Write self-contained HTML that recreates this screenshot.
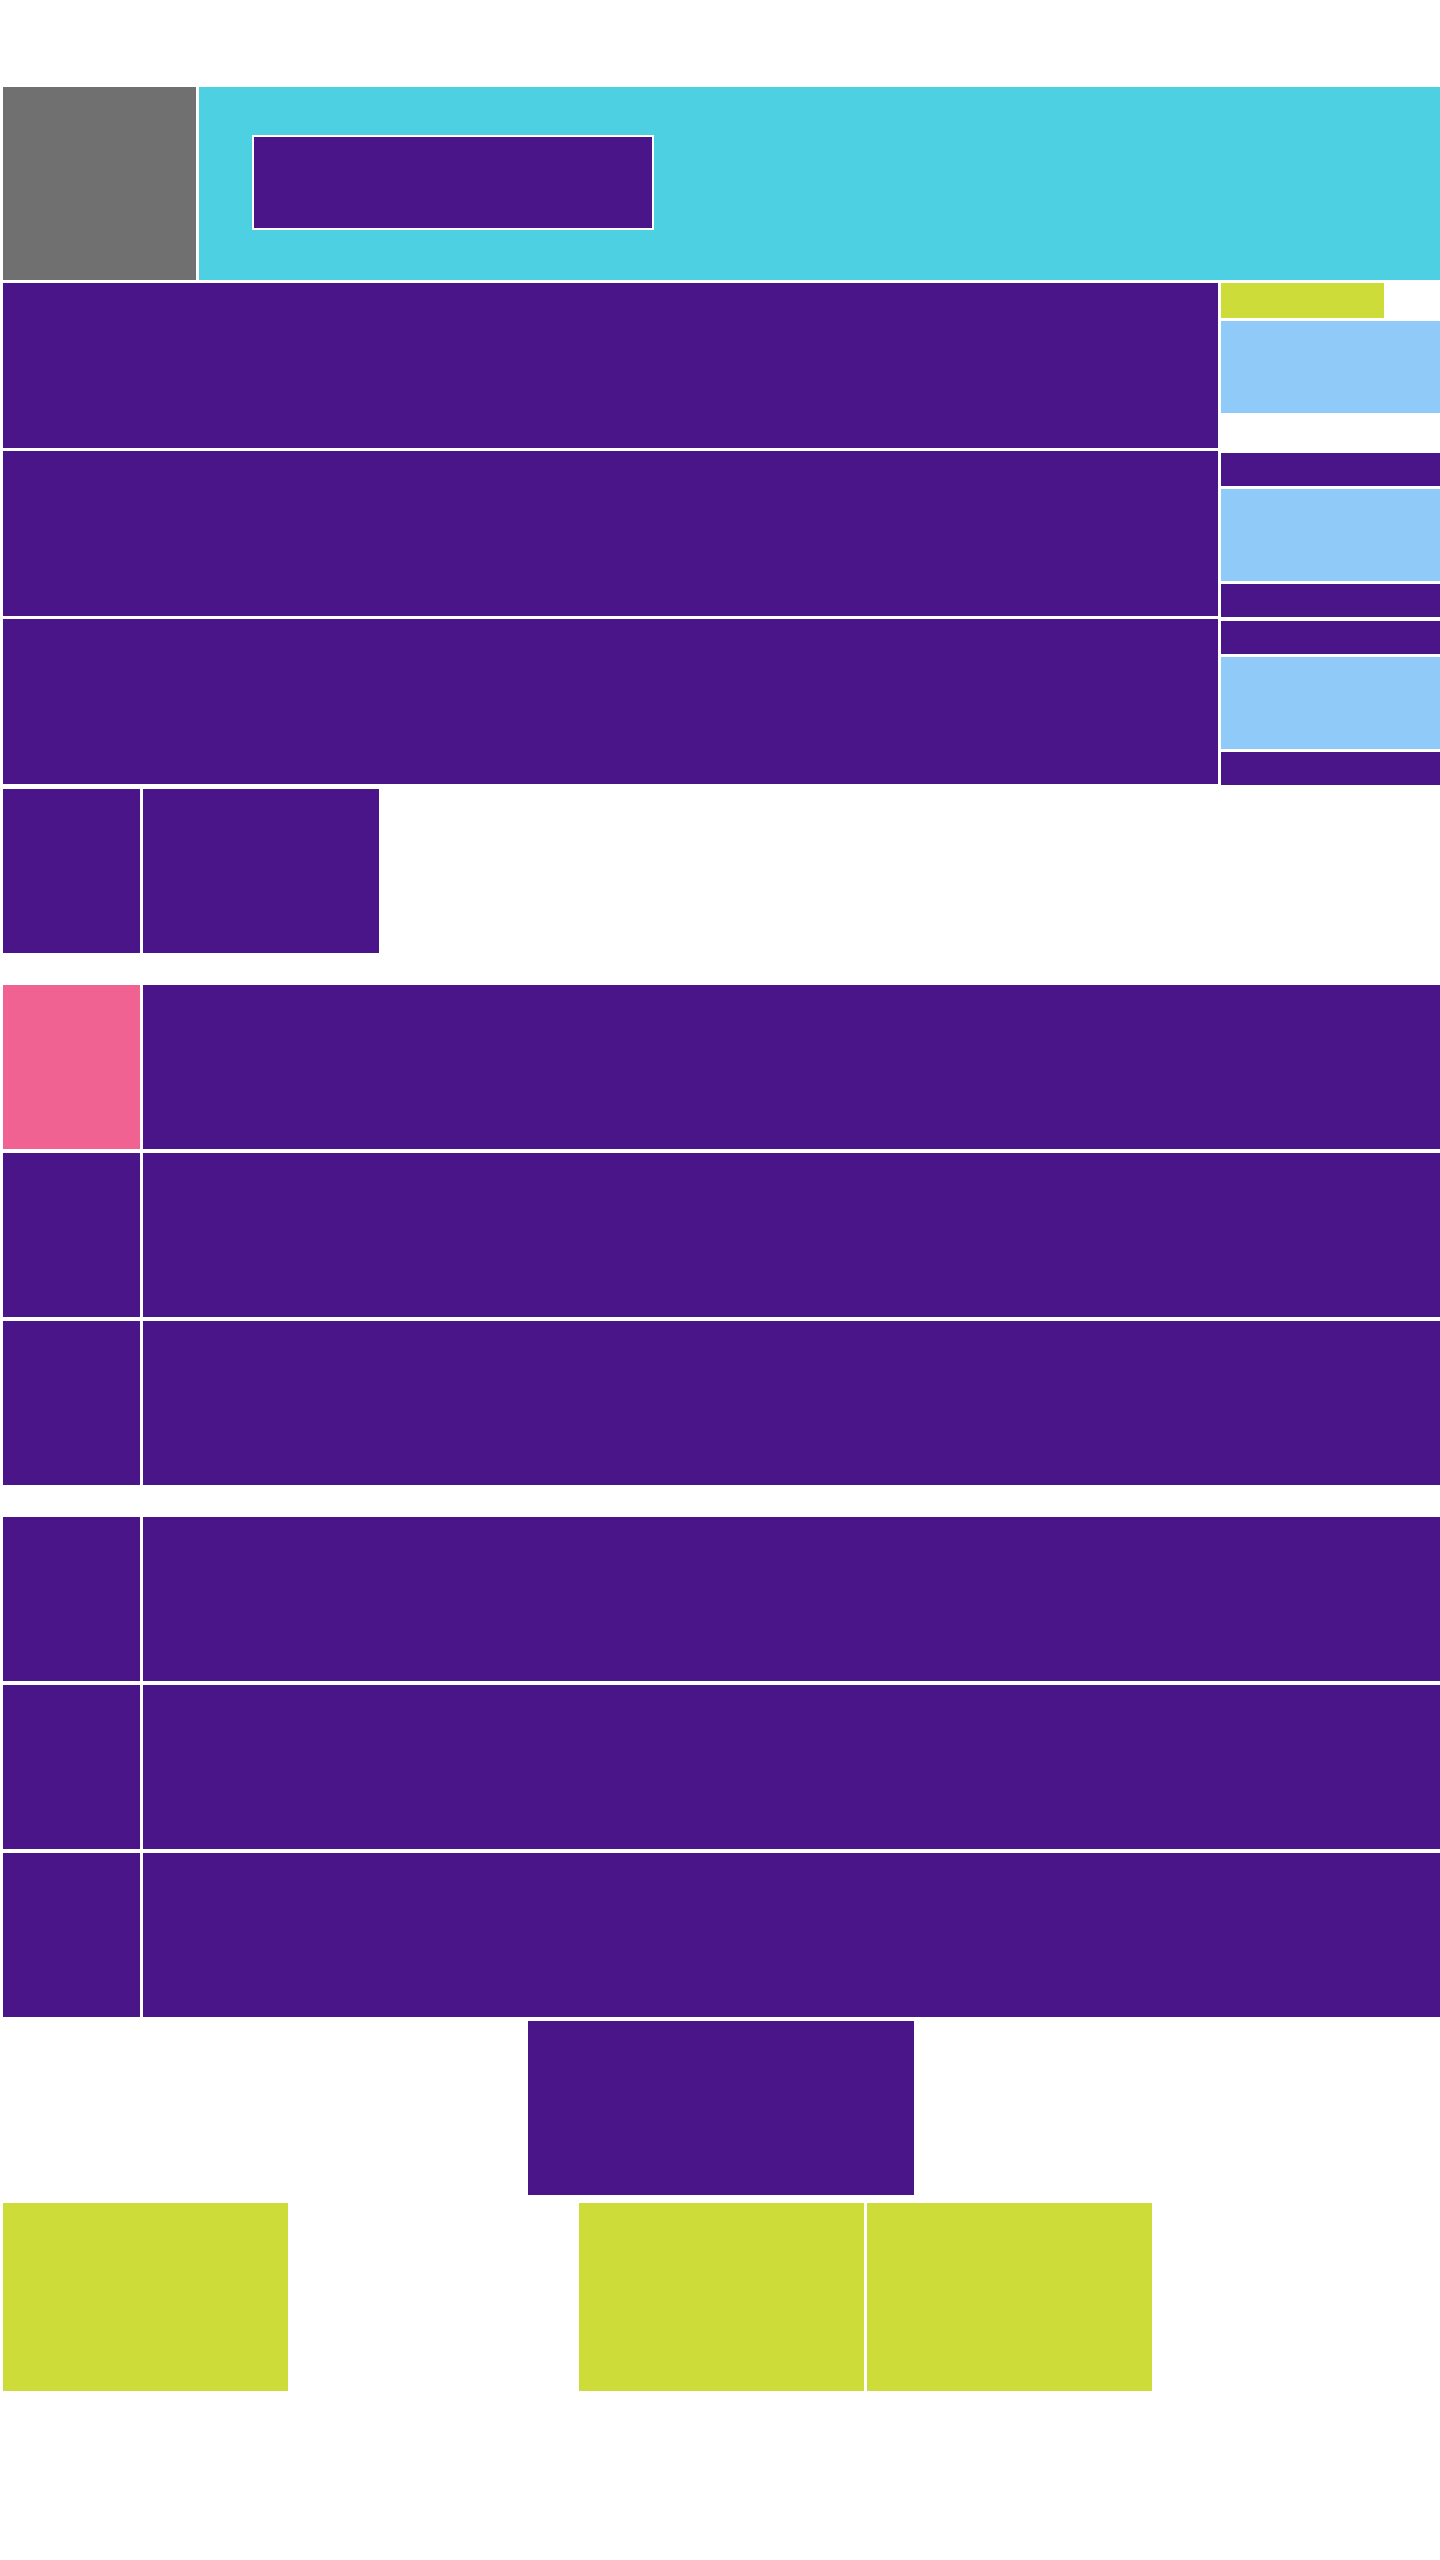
<!DOCTYPE html>
<html><head><meta charset="utf-8"><style>
html,body{margin:0;padding:0;background:#fff;}
body{width:1440px;height:2560px;position:relative;overflow:hidden;font-family:"Liberation Sans",sans-serif;}
.b{position:absolute;box-sizing:border-box;}
.p{background:#4a1589}.c{background:#4dd0e1}.g{background:#707070}.y{background:#cddc39}.l{background:#90caf9}.k{background:#f06292}
</style></head><body>
<div class="b g" style="left:3px;top:87px;width:193px;height:193px"></div>
<div class="b c" style="left:199px;top:87px;width:1241px;height:193px"></div>
<div class="b p" style="left:252px;top:135px;width:402px;height:95px;border:2px solid #fff"></div>

<div class="b p" style="left:3px;top:283px;width:1215px;height:165px"></div>
<div class="b y" style="left:1221px;top:283px;width:163px;height:35px"></div>
<div class="b l" style="left:1221px;top:321px;width:219px;height:92px"></div>

<div class="b p" style="left:3px;top:451px;width:1215px;height:165px"></div>
<div class="b p" style="left:1221px;top:453px;width:219px;height:33px"></div>
<div class="b l" style="left:1221px;top:489px;width:219px;height:92px"></div>
<div class="b p" style="left:1221px;top:584px;width:219px;height:33px"></div>

<div class="b p" style="left:3px;top:619px;width:1215px;height:165px"></div>
<div class="b p" style="left:1221px;top:621px;width:219px;height:33px"></div>
<div class="b l" style="left:1221px;top:657px;width:219px;height:92px"></div>
<div class="b p" style="left:1221px;top:752px;width:219px;height:33px"></div>

<div class="b p" style="left:3px;top:789px;width:137px;height:164px"></div>
<div class="b p" style="left:143px;top:789px;width:236px;height:164px"></div>

<div class="b k" style="left:3px;top:985px;width:137px;height:164px"></div>
<div class="b p" style="left:143px;top:985px;width:1297px;height:164px"></div>
<div class="b p" style="left:3px;top:1153px;width:137px;height:164px"></div>
<div class="b p" style="left:143px;top:1153px;width:1297px;height:164px"></div>
<div class="b p" style="left:3px;top:1321px;width:137px;height:164px"></div>
<div class="b p" style="left:143px;top:1321px;width:1297px;height:164px"></div>

<div class="b p" style="left:3px;top:1517px;width:137px;height:164px"></div>
<div class="b p" style="left:143px;top:1517px;width:1297px;height:164px"></div>
<div class="b p" style="left:3px;top:1685px;width:137px;height:164px"></div>
<div class="b p" style="left:143px;top:1685px;width:1297px;height:164px"></div>
<div class="b p" style="left:3px;top:1853px;width:137px;height:164px"></div>
<div class="b p" style="left:143px;top:1853px;width:1297px;height:164px"></div>

<div class="b p" style="left:528px;top:2021px;width:386px;height:174px"></div>

<div class="b y" style="left:3px;top:2203px;width:285px;height:188px"></div>
<div class="b y" style="left:579px;top:2203px;width:285px;height:188px"></div>
<div class="b y" style="left:867px;top:2203px;width:285px;height:188px"></div>
</body></html>
